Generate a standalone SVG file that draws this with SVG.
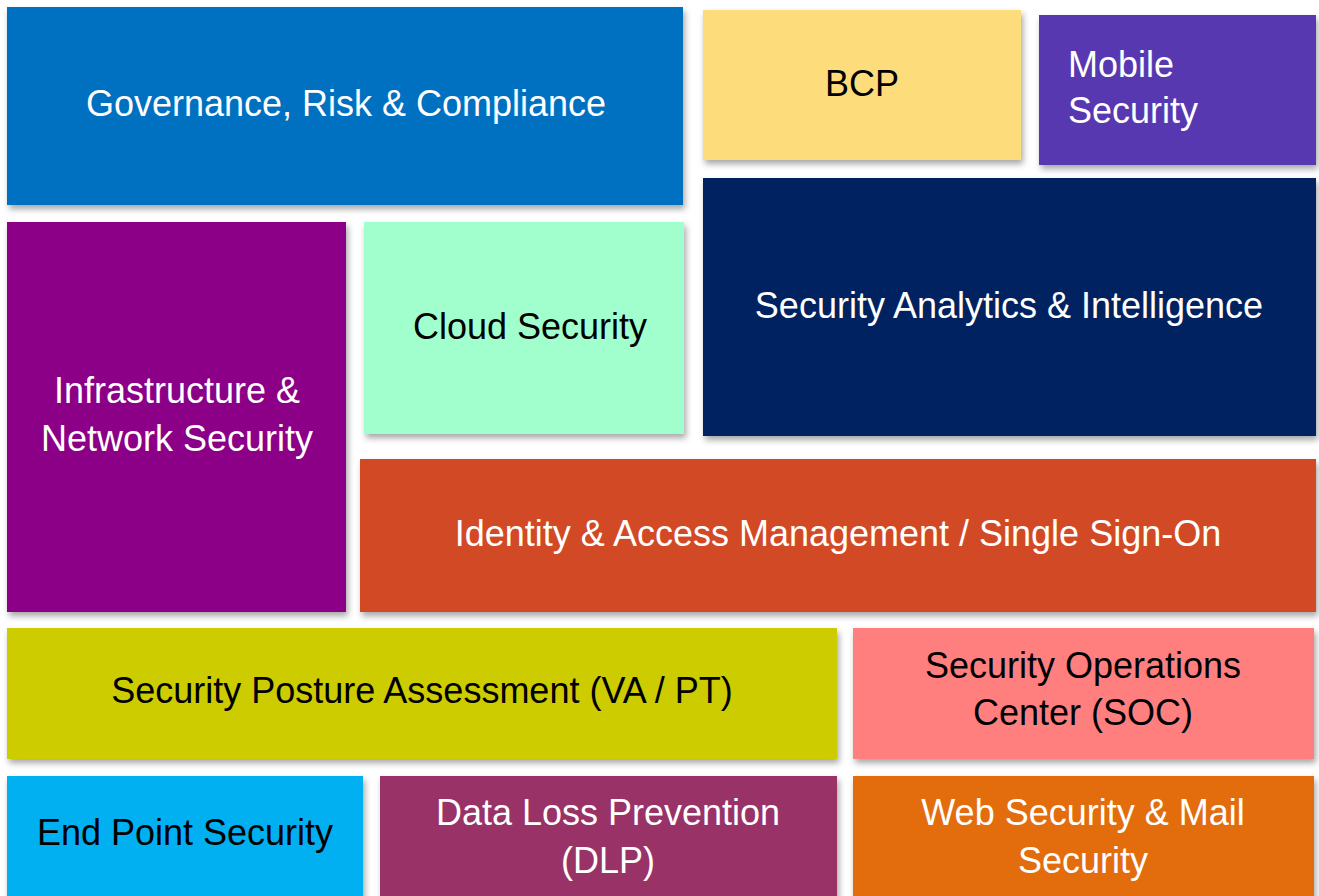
<svg xmlns="http://www.w3.org/2000/svg" width="1319" height="896" viewBox="0 0 1319 896">
<defs>
<filter id="sh" x="-5%" y="-5%" width="115%" height="120%">
<feDropShadow dx="2" dy="4" stdDeviation="3" flood-color="#000" flood-opacity="0.35"/>
</filter>
</defs>
<style>
.b{filter:url(#sh)}
text{font-family:"Liberation Sans",Arial,sans-serif;font-size:36px;text-anchor:middle}
.w{fill:#fff}
.k{fill:#000}
</style>
<rect width="1319" height="896" fill="#fff"/>
<g id="grc"><rect class="b" x="7" y="7" width="676" height="198" fill="#0070C0"/><text class="w" x="346" y="116">Governance, Risk &amp; Compliance</text></g>
<g id="bcp"><rect class="b" x="703" y="10" width="318" height="150" fill="#FDDC7C"/><text class="k" x="862" y="96">BCP</text></g>
<g id="mobile"><rect class="b" x="1039" y="15" width="277" height="150" fill="#5838B0"/><text class="w" x="1068" y="77" style="text-anchor:start">Mobile</text><text class="w" x="1068" y="123" style="text-anchor:start">Security</text></g>
<g id="sai"><rect class="b" x="703" y="178" width="613" height="258" fill="#002060"/><text class="w" x="1009" y="318">Security Analytics &amp; Intelligence</text></g>
<g id="infra"><rect class="b" x="7" y="222" width="339" height="390" fill="#8B0086"/><text class="w" x="177" y="403">Infrastructure &amp;</text><text class="w" x="177" y="451">Network Security</text></g>
<g id="cloud"><rect class="b" x="364" y="222" width="320" height="212" fill="#A0FFCC"/><text class="k" x="530" y="339">Cloud Security</text></g>
<g id="iam"><rect class="b" x="360" y="459" width="956" height="153" fill="#D24A26"/><text class="w" x="838" y="546">Identity &amp; Access Management / Single Sign-On</text></g>
<g id="spa"><rect class="b" x="7" y="628" width="830" height="131" fill="#CCCC00"/><text class="k" x="422" y="703">Security Posture Assessment (VA / PT)</text></g>
<g id="soc"><rect class="b" x="853" y="628" width="461" height="131" fill="#FF7F7F"/><text class="k" x="1083" y="678">Security Operations</text><text class="k" x="1083" y="725">Center (SOC)</text></g>
<g id="eps"><rect class="b" x="7" y="776" width="356" height="130" fill="#00B0F0"/><text class="k" x="185" y="845">End Point Security</text></g>
<g id="dlp"><rect class="b" x="380" y="776" width="457" height="130" fill="#993366"/><text class="w" x="608" y="825">Data Loss Prevention</text><text class="w" x="608" y="873">(DLP)</text></g>
<g id="web"><rect class="b" x="853" y="776" width="461" height="130" fill="#E36C0A"/><text class="w" x="1083" y="825">Web Security &amp; Mail</text><text class="w" x="1083" y="873">Security</text></g>
<g id="connectors"/>
</svg>
